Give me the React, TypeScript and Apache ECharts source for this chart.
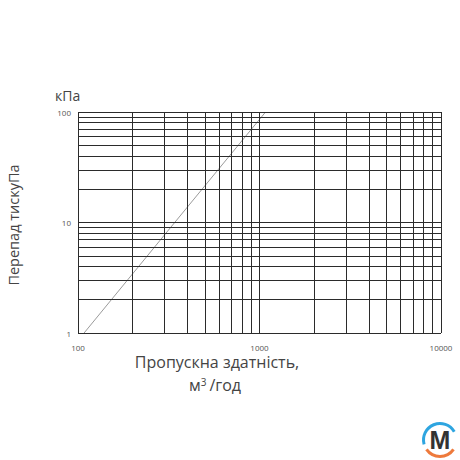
import React, { useEffect, useRef } from "react";
import * as echarts from "echarts";

const flowValues = [108, 341, 1080];
const pressureValues = [1, 10, 100];
const xGridValues = [100, 200, 300, 400, 500, 600, 700, 800, 900, 1000, 2000, 3000, 4000, 5000, 6000, 7000, 8000, 9000, 10000];
const yGridValues = [1, 2, 3, 4, 5, 6, 7, 8, 9, 10, 20, 30, 40, 50, 60, 70, 80, 90, 100];

const FONT = "'Open Sans', 'DejaVu Sans', sans-serif";

export default function App() {
  const ref = useRef<HTMLDivElement>(null);
  useEffect(() => {
    if (!ref.current) return;
    const chart = echarts.init(ref.current, undefined, { renderer: "svg" });
    const gridLineStyle = { color: "#2b2b2b", width: 1, type: "solid" as const };
    chart.setOption({
      animation: false,
      backgroundColor: "#ffffff",
      grid: { left: 78, top: 112, right: 19, bottom: 127, containLabel: false },
      xAxis: {
        type: "log",
        logBase: 10,
        min: 100,
        max: 10000,
        axisLine: { show: false },
        axisTick: { show: false },
        splitLine: { show: false },
        axisLabel: { fontSize: 8, color: "#555", fontFamily: FONT, margin: 10, formatter: (v: number) => String(Math.round(v)) },
      },
      yAxis: {
        type: "log",
        logBase: 10,
        min: 1,
        max: 100,
        axisLine: { show: false },
        axisTick: { show: false },
        splitLine: { show: false },
        axisLabel: { fontSize: 8, color: "#555", fontFamily: FONT, margin: 7, formatter: (v: number) => String(Math.round(v)) },
      },
      series: [
        {
          type: "line",
          data: flowValues.map((f, i) => [f, pressureValues[i]]),
          showSymbol: false,
          symbol: "none",
          lineStyle: { color: "#9a9a9a", width: 1 },
          z: 3,
          markLine: {
            silent: true,
            symbol: "none",
            label: { show: false },
            lineStyle: gridLineStyle,
            data: [
              ...xGridValues.map((v) => ({ xAxis: v })),
              ...yGridValues.map((v) => ({ yAxis: v })),
            ],
          },
        },
      ],
      graphic: [
        {
          type: "text",
          left: 55,
          top: 88,
          style: { text: "кПа", fontSize: 14, fill: "#444", fontFamily: FONT },
        },
        {
          type: "text",
          x: 13,
          y: 225,
          rotation: Math.PI / 2,
          style: {
            text: "Перепад тискуПа",
            fontSize: 14.5,
            fill: "#444",
            fontFamily: FONT,
            align: "center",
            verticalAlign: "middle",
          },
        },
        {
          type: "text",
          x: 217,
          y: 362,
          style: {
            text: "Пропускна здатність,",
            fontSize: 16,
            fill: "#444",
            fontFamily: FONT,
            align: "center",
            verticalAlign: "middle",
          },
        },
        {
          type: "text",
          x: 215,
          y: 385,
          style: {
            rich: { sup: { fontSize: 10, verticalAlign: "top", padding: [0, 3, 5, 0], fill: "#444", fontFamily: FONT } },
            text: "м{sup|3}/год",
            fontSize: 16,
            fill: "#444",
            fontFamily: FONT,
            align: "center",
            verticalAlign: "middle",
          },
        },
        {
          type: "arc",
          shape: { cx: 440, cy: 440, r: 16.5, startAngle: (165 * Math.PI) / 180, endAngle: (330 * Math.PI) / 180, clockwise: true },
          style: { stroke: "#2ea5e0", lineWidth: 3, fill: "none" },
        },
        {
          type: "arc",
          shape: { cx: 440, cy: 440, r: 16.5, startAngle: (35 * Math.PI) / 180, endAngle: (145 * Math.PI) / 180, clockwise: true },
          style: { stroke: "#ee7a3c", lineWidth: 3, fill: "none" },
        },
        {
          type: "text",
          x: 440,
          y: 440,
          style: {
            text: "M",
            fontSize: 25,
            fontWeight: 900,
            fill: "#333",
            fontFamily: "'Liberation Sans', Arial, sans-serif",
            align: "center",
            verticalAlign: "middle",
          },
        },
      ],
    });
    return () => chart.dispose();
  }, []);
  return <div ref={ref} style={{ position: "fixed", left: 0, top: 0, width: 460, height: 460 }} />;
}
